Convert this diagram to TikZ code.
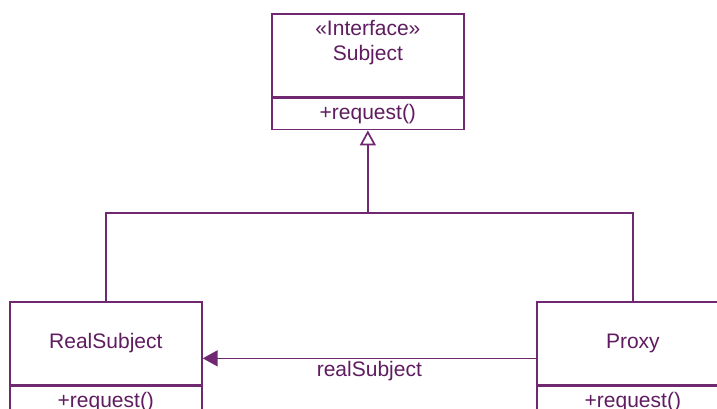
\documentclass[tikz,border=0pt]{standalone}
\usepackage{fontspec}
\setmainfont{Liberation Sans}
\usetikzlibrary{positioning,calc}
\usetikzlibrary{arrows.meta}

\definecolor{umlline}{RGB}{112,40,112}
\definecolor{umltext}{RGB}{96,28,96}

\tikzset{
    classbox/.style={draw=umlline, line width=1.7pt, fill=white, minimum width=192pt,
        minimum height=83pt, inner sep=0pt, text=umltext},
    opsbox/.style={draw=umlline, line width=1.7pt, fill=white, minimum width=192pt,
        minimum height=31pt, inner sep=0pt, text=umltext},
    generalize/.style={draw=umlline, line width=1.7pt,
        -{Triangle[open, length=15pt, width=16pt, fill=white]}},
    navigate/.style={draw=umlline, line width=1.7pt,
        -{Triangle[length=15pt, width=16pt]}},
}

\begin{document}
\begin{tikzpicture}[x=1pt, y=1pt, font=\fontsize{21}{25}\selectfont]
        \useasboundingbox (0,0) rectangle (717,-408);
        \clip (0,0) rectangle (717,-408);

        % the interface
        \node[classbox, anchor=north west] (subject) at (271,-13) {};
        \node[text=umltext, align=center, inner sep=0pt, below=7pt of subject.north]
            (subjectname) {«Interface»\\Subject};
        \node[opsbox, below=0pt of subject] (subjectops) {+request()};

        % the two implementations
        \node[classbox, anchor=north west] (realsubject) at (9,-301) {RealSubject};
        \node[opsbox, below=0pt of realsubject] (realsubjectops) {+request()};

        \node[classbox, anchor=north west] (proxy) at (536,-301) {Proxy};
        \node[opsbox, below=0pt of proxy] (proxyops) {+request()};

        % inheritance tree
        \coordinate (joint) at (subjectops.south |- 0,-213);
        \draw[umlline, line width=1.7pt] (realsubject.north) |- (joint);
        \draw[umlline, line width=1.7pt] (proxy.north) |- (joint);
        \draw[generalize] (joint) -- (subjectops.south);

        % association
        \coordinate (assocstart) at ($(proxy.west)+(0,-15)$);
        \coordinate (assocend) at ($(realsubject.east)+(0,-15)$);
        \draw[navigate] (assocstart) -- node[below=1pt, text=umltext, inner sep=1pt]
            (assoclabel) {realSubject} (assocend);

\end{tikzpicture}
\end{document}
